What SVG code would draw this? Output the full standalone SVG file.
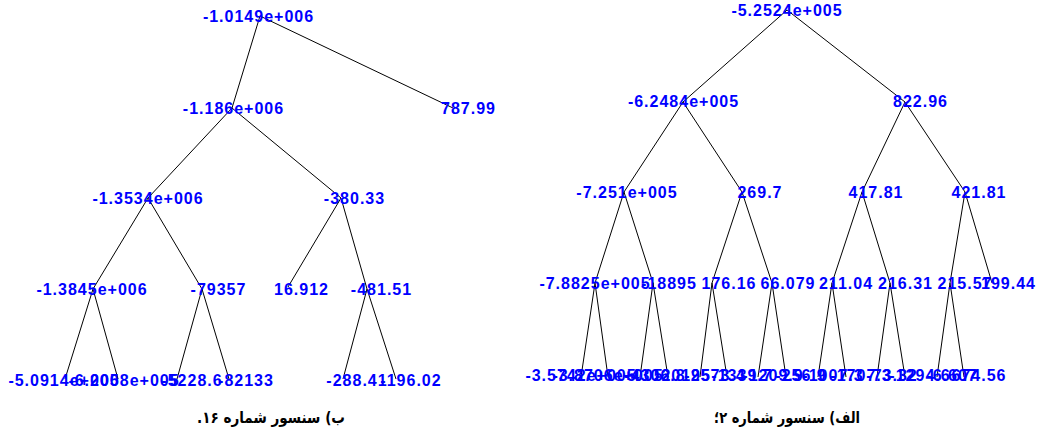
<svg xmlns="http://www.w3.org/2000/svg" width="1040" height="437" viewBox="0 0 1040 437">
<style>
.t{font-family:"Liberation Sans",Arial,sans-serif;font-weight:bold;font-size:16px;letter-spacing:1px;fill:#0000ff;text-anchor:middle}
.c{font-family:"DejaVu Sans",sans-serif;font-weight:bold;font-size:16px;fill:#000;text-anchor:middle}
.e line{stroke:#000;stroke-width:1}
</style>
<rect width="1040" height="437" fill="#fff"/>
<g id="connectors" class="e">
<line x1="260" y1="16" x2="232" y2="108"/>
<line x1="260" y1="16" x2="453" y2="108"/>
<line x1="232" y1="108" x2="148" y2="198"/>
<line x1="232" y1="108" x2="341" y2="198"/>
<line x1="148" y1="198" x2="93" y2="289"/>
<line x1="148" y1="198" x2="202" y2="289"/>
<line x1="341" y1="198" x2="288" y2="287"/>
<line x1="341" y1="198" x2="367" y2="289"/>
<line x1="93" y1="289" x2="65" y2="379"/>
<line x1="93" y1="289" x2="118" y2="379"/>
<line x1="202" y1="289" x2="177" y2="379"/>
<line x1="202" y1="289" x2="229" y2="379"/>
<line x1="367" y1="289" x2="343" y2="379"/>
<line x1="367" y1="289" x2="396" y2="379"/>
<line x1="787" y1="10" x2="683" y2="102"/>
<line x1="787" y1="10" x2="905" y2="102"/>
<line x1="683" y1="102" x2="624" y2="192"/>
<line x1="683" y1="102" x2="742" y2="192"/>
<line x1="905" y1="102" x2="862" y2="192"/>
<line x1="905" y1="102" x2="965" y2="192"/>
<line x1="624" y1="192" x2="595" y2="283"/>
<line x1="624" y1="192" x2="653" y2="283"/>
<line x1="742" y1="192" x2="712" y2="283"/>
<line x1="742" y1="192" x2="772" y2="283"/>
<line x1="862" y1="192" x2="832" y2="283"/>
<line x1="862" y1="192" x2="890" y2="283"/>
<line x1="965" y1="192" x2="950" y2="283"/>
<line x1="965" y1="192" x2="992" y2="283"/>
<line x1="595" y1="283" x2="581" y2="377"/>
<line x1="595" y1="283" x2="608" y2="377"/>
<line x1="653" y1="283" x2="640" y2="377"/>
<line x1="653" y1="283" x2="668" y2="377"/>
<line x1="712" y1="283" x2="700" y2="377"/>
<line x1="712" y1="283" x2="727" y2="377"/>
<line x1="772" y1="283" x2="758" y2="377"/>
<line x1="772" y1="283" x2="786" y2="377"/>
<line x1="832" y1="283" x2="818" y2="377"/>
<line x1="832" y1="283" x2="846" y2="377"/>
<line x1="890" y1="283" x2="877" y2="377"/>
<line x1="890" y1="283" x2="905" y2="377"/>
<line x1="950" y1="283" x2="937" y2="377"/>
<line x1="950" y1="283" x2="964" y2="377"/>
</g>
<g id="tree-b">
<g id="b-root"><text class="t" x="258.5" y="22">-1.0149e+006</text></g>
<g id="b-n1"><text class="t" x="233.5" y="114">-1.186e+006</text></g>
<g id="b-n2"><text class="t" x="468.5" y="114">787.99</text></g>
<g id="b-n3"><text class="t" x="148" y="204">-1.3534e+006</text></g>
<g id="b-n4"><text class="t" x="354.5" y="204">-380.33</text></g>
<g id="b-n5"><text class="t" x="92" y="295">-1.3845e+006</text></g>
<g id="b-n6"><text class="t" x="218.5" y="295">-79357</text></g>
<g id="b-n7"><text class="t" x="301.5" y="295">16.912</text></g>
<g id="b-n8"><text class="t" x="381.5" y="295">-481.51</text></g>
<g id="b-n9"><text class="t" x="64" y="386">-5.0914e+005</text></g>
<g id="b-n10"><text class="t" x="124" y="386">-6.2008e+005</text></g>
<g id="b-n11"><text class="t" x="192" y="386">-5228.6</text></g>
<g id="b-n12"><text class="t" x="246" y="386">-82133</text></g>
<g id="b-n13"><text class="t" x="357" y="386">-288.41</text></g>
<g id="b-n14"><text class="t" x="411" y="386">-196.02</text></g>
</g>
<g id="tree-a">
<g id="a-root"><text class="t" x="787" y="16">-5.2524e+005</text></g>
<g id="a-n1"><text class="t" x="683.5" y="107">-6.2484e+005</text></g>
<g id="a-n2"><text class="t" x="920.5" y="107">822.96</text></g>
<g id="a-n3"><text class="t" x="627" y="198">-7.251e+005</text></g>
<g id="a-n4"><text class="t" x="760" y="198">269.7</text></g>
<g id="a-n5"><text class="t" x="876" y="198">417.81</text></g>
<g id="a-n6"><text class="t" x="979" y="198">421.81</text></g>
<g id="a-n7"><text class="t" x="595" y="289">-7.8825e+005</text></g>
<g id="a-n8"><text class="t" x="669" y="289">-18895</text></g>
<g id="a-n9"><text class="t" x="729" y="289">176.16</text></g>
<g id="a-n10"><text class="t" x="788" y="289">66.079</text></g>
<g id="a-n11"><text class="t" x="846" y="289">211.04</text></g>
<g id="a-n12"><text class="t" x="905.5" y="289">216.31</text></g>
<g id="a-n13"><text class="t" x="965" y="289">215.57</text></g>
<g id="a-n14"><text class="t" x="1008.5" y="289">199.44</text></g>
<g id="a-n15"><text class="t" x="581" y="381">-3.5742e+005</text></g>
<g id="a-n16"><text class="t" x="608" y="381">-3.8706e+005</text></g>
<g id="a-n17"><text class="t" x="655" y="381">-4306.8</text></g>
<g id="a-n18"><text class="t" x="683" y="381">-20195</text></g>
<g id="a-n19"><text class="t" x="715" y="381">-2573.4</text></g>
<g id="a-n20"><text class="t" x="742" y="381">-1339.7</text></g>
<g id="a-n21"><text class="t" x="773" y="381">-1209.9</text></g>
<g id="a-n22"><text class="t" x="801" y="381">-256.9</text></g>
<g id="a-n23"><text class="t" x="833" y="381">-1007.3</text></g>
<g id="a-n24"><text class="t" x="861" y="381">-1707.3</text></g>
<g id="a-n25"><text class="t" x="892" y="381">-73.32</text></g>
<g id="a-n26"><text class="t" x="920" y="381">-1294.6</text></g>
<g id="a-n27"><text class="t" x="952" y="381">-6.607</text></g>
<g id="a-n28"><text class="t" x="979" y="381">674.56</text></g>
</g>
<g id="captions">
<text class="c" x="271" y="423" direction="rtl" textLength="148" lengthAdjust="spacingAndGlyphs">ب) سنسور شماره ۱۶.</text>
<text class="c" x="787" y="423" direction="rtl" textLength="146" lengthAdjust="spacingAndGlyphs">الف) سنسور شماره ۲؛</text>
</g>
</svg>
